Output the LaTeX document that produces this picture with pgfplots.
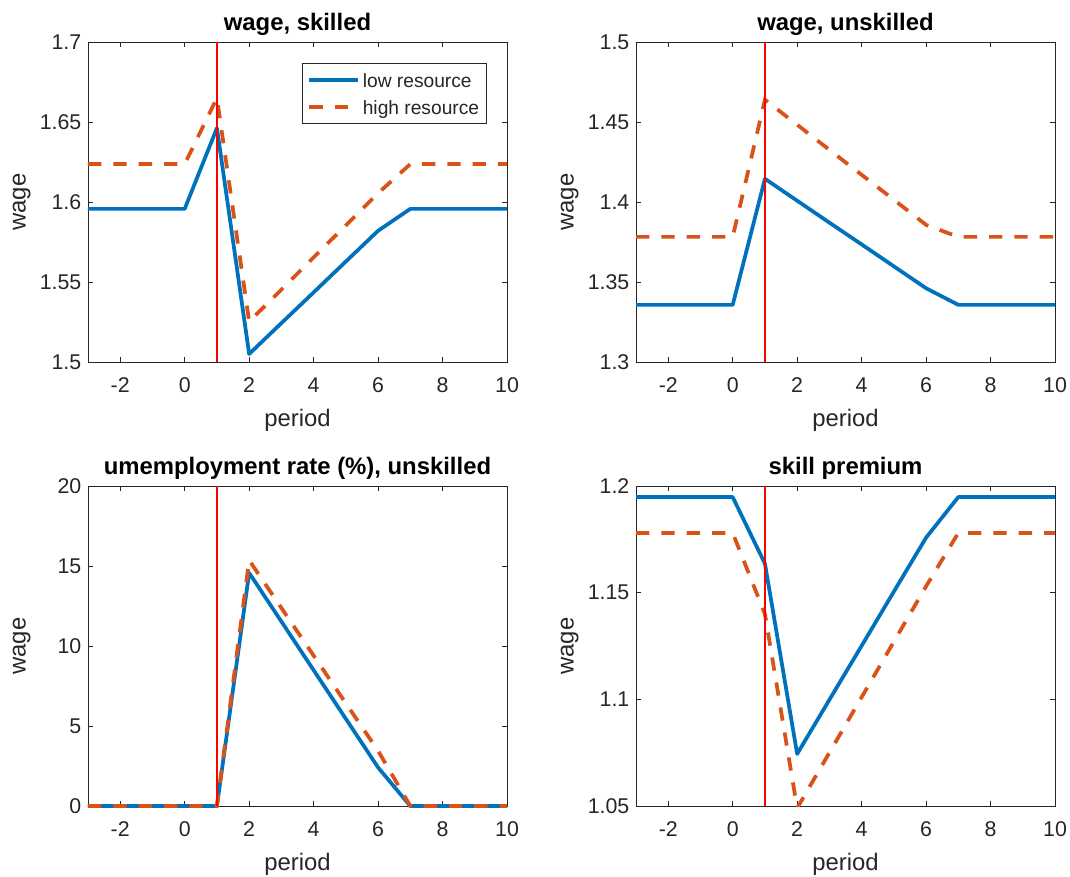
\documentclass[border=0pt]{standalone}
\usepackage{fontspec}
\setmainfont{Liberation Sans}
\usepackage{pgfplots}
\pgfplotsset{compat=1.18}
\definecolor{mblue}{RGB}{0,114,189}
\definecolor{morange}{RGB}{217,83,25}
\definecolor{axgray}{RGB}{38,38,38}

\pgfplotsset{
  panel/.style={
    scale only axis, width=314.25pt, height=240pt,
    anchor=south west,
    xmin=-3, xmax=10, xtick={-2,0,...,10},
    axis line style={draw=axgray, line width=0.6pt},
    every tick/.style={draw=axgray, line width=0.6pt},
    tick align=inside, major tick length=3.75pt,
    /pgf/number format/assume math mode=true,
    tick label style={font=\fontsize{16}{19}\selectfont, text=axgray},
    xticklabel style={yshift=-8.2pt},
    yticklabel style={xshift=-1.5pt},
    title style={font=\bfseries\fontsize{17.9}{21}\selectfont,
      at={(0.5,1.0094)}, anchor=base},
    xlabel={period}, ylabel={wage},
    label style={font=\fontsize{17.9}{21}\selectfont, text=axgray},
    xlabel style={at={(axis description cs:0.5,-0.18375)}, anchor=center},
    ylabel style={at={(axis description cs:-0.158,0.5)}, anchor=center},
  },
  low/.style={mblue, line width=2.8pt, line join=round},
  high/.style={morange, line width=2.8pt, dash pattern=on 10pt off 9pt},
  vline/.style={red, line width=1.25pt, forget plot},
}

\begin{document}
\begin{tikzpicture}[x=1pt,y=1pt]
\useasboundingbox (0,0) rectangle (802.5,657);

% wage, skilled
\begin{axis}[panel, at={(66pt,385.5pt)},
  ymin=1.5, ymax=1.7, ytick={1.5,1.55,1.6,1.65,1.7},
  title={wage, skilled},
  legend style={at={(0.952,0.934)}, anchor=north east, draw=axgray,
    line width=0.6pt, font=\fontsize{14.4}{17}\selectfont, text=axgray,
    inner xsep=3.5pt, inner ysep=3pt, row sep=1.5pt,
    nodes={inner ysep=0pt, text height=15pt, text depth=3.75pt},
    cells={anchor=west}},
  legend image code/.code={\draw[#1] (0pt,0pt) -- (36.75pt,0pt);}]
\addplot[low] coordinates {(-3,1.5957)(-2,1.5957)(-1,1.5957)(0,1.5957)(1,1.6462)(2,1.5050)(3,1.5243)(4,1.5435)(5,1.5628)(6,1.5820)(7,1.5957)(8,1.5957)(9,1.5957)(10,1.5957)};
\addlegendentry{low resource}
\addplot[high] coordinates {(-3,1.6237)(-2,1.6237)(-1,1.6237)(0,1.6237)(1,1.6650)(2,1.5252)(3,1.5453)(4,1.5654)(5,1.5854)(6,1.6055)(7,1.6237)(8,1.6237)(9,1.6237)(10,1.6237)};
\addlegendentry{high resource}
\addplot[vline] coordinates {(1,1.5)(1,1.7)};
\end{axis}

% wage, unskilled
\begin{axis}[panel, at={(477pt,385.5pt)},
  ymin=1.3, ymax=1.5, ytick={1.3,1.35,1.4,1.45,1.5},
  title={wage, unskilled}]
\addplot[low] coordinates {(-3,1.3357)(-2,1.3357)(-1,1.3357)(0,1.3357)(1,1.4145)(2,1.4008)(3,1.3871)(4,1.3735)(5,1.3598)(6,1.3461)(7,1.3357)(8,1.3357)(9,1.3357)(10,1.3357)};
\addplot[high] coordinates {(-3,1.3782)(-2,1.3782)(-1,1.3782)(0,1.3782)(1,1.4639)(2,1.4483)(3,1.4326)(4,1.4170)(5,1.4014)(6,1.3857)(7,1.3782)(8,1.3782)(9,1.3782)(10,1.3782)};
\addplot[vline] coordinates {(1,1.3)(1,1.5)};
\end{axis}

% unemployment
\begin{axis}[panel, at={(66pt,52.5pt)},
  ymin=0, ymax=20, ytick={0,5,10,15,20}, clip=false,
  title={umemployment rate (\%), unskilled}]
\addplot[low] coordinates {(-3,0)(-2,0)(-1,0)(0,0)(1,0)(2,14.57)(3,11.53)(4,8.49)(5,5.45)(6,2.41)(7,0)(8,0)(9,0)(10,0)};
\addplot[high] coordinates {(-3,0)(-2,0)(-1,0)(0,0)(1,0)(2,15.36)(3,12.38)(4,9.40)(5,6.42)(6,3.45)(7,0)(8,0)(9,0)(10,0)};
\addplot[vline] coordinates {(1,0)(1,20)};
\end{axis}

% skill premium
\begin{axis}[panel, at={(477pt,52.5pt)},
  ymin=1.05, ymax=1.2, ytick={1.05,1.1,1.15,1.2},
  title={skill premium}]
\addplot[low] coordinates {(-3,1.1948)(-2,1.1948)(-1,1.1948)(0,1.1948)(1,1.1636)(2,1.0744)(3,1.0998)(4,1.1251)(5,1.1505)(6,1.1758)(7,1.1948)(8,1.1948)(9,1.1948)(10,1.1948)};
\addplot[high] coordinates {(-3,1.1780)(-2,1.1780)(-1,1.1780)(0,1.1780)(1,1.1400)(2,1.0490)(3,1.0750)(4,1.1010)(5,1.1270)(6,1.1530)(7,1.1780)(8,1.1780)(9,1.1780)(10,1.1780)};
\addplot[vline] coordinates {(1,1.05)(1,1.2)};
\end{axis}
\end{tikzpicture}
\end{document}
